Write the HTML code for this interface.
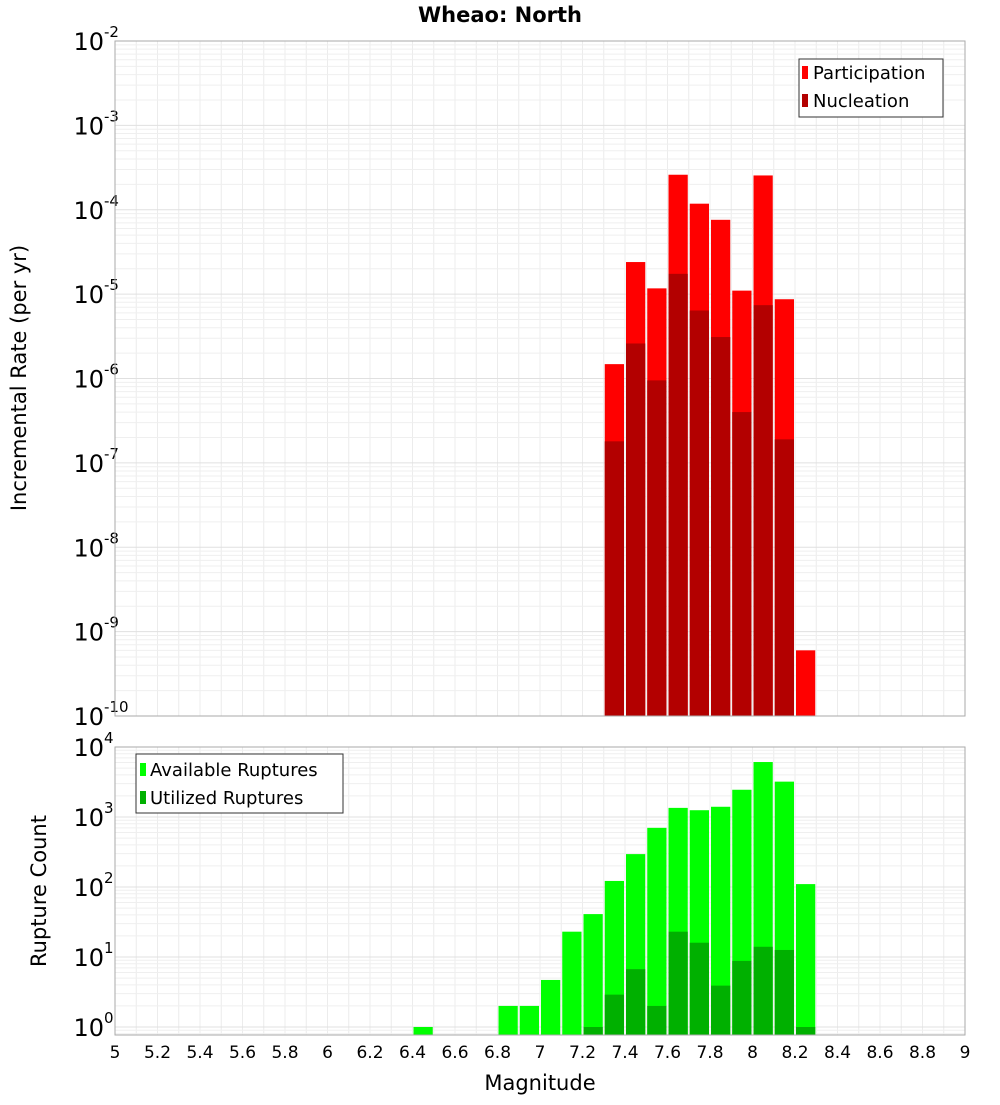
<!DOCTYPE html>
<html><head><meta charset="utf-8"><style>
body{margin:0;background:#fff;font-family:"Liberation Sans","DejaVu Sans",sans-serif;}
svg text{font-family:"DejaVu Sans","Liberation Sans",sans-serif;}
</style></head><body>
<svg id="chart" width="1000" height="1100" xmlns="http://www.w3.org/2000/svg">
<text x="500" y="22" text-anchor="middle" font-size="21" font-weight="bold">Wheao: North</text>
<g id="top"></g><g id="bot"></g>
<text x="540" y="1090" text-anchor="middle" font-size="21">Magnitude</text>
<text transform="translate(26,378) rotate(-90)" text-anchor="middle" font-size="21">Incremental Rate (per yr)</text>
<text transform="translate(46,891) rotate(-90)" text-anchor="middle" font-size="21">Rupture Count</text>
</svg>
<script>
const binCenters=[7.35,7.45,7.55,7.65,7.75,7.85,7.95,8.05,8.15,8.25];
const participation=[1.48e-6,2.4e-5,1.17e-5,2.6e-4,1.18e-4,7.6e-5,1.1e-5,2.55e-4,8.7e-6,6e-10];
const nucleation=[1.8e-7,2.6e-6,9.5e-7,1.74e-5,6.4e-6,3.1e-6,4e-7,7.4e-6,1.9e-7,0];
const countBins=[6.45,6.85,6.95,7.05,7.15,7.25,7.35,7.45,7.55,7.65,7.75,7.85,7.95,8.05,8.15,8.25];
const available=[1,2,2,4.7,23,41,122,295,700,1350,1250,1400,2450,6100,3200,110];
const utilized=[0,0,0,0,0,1,2.9,6.7,2,23,16,3.9,8.8,14,12.6,1];
const xTicks=[5,5.2,5.4,5.6,5.8,6,6.2,6.4,6.6,6.8,7,7.2,7.4,7.6,7.8,8,8.2,8.4,8.6,8.8,9];
const topExps=[-2,-3,-4,-5,-6,-7,-8,-9,-10];
const botExps=[4,3,2,1,0];
const NS="http://www.w3.org/2000/svg";
const X0=115,X1=965;
const xs=m=>X0+(m-5)/4*(X1-X0);
function mk(p,t,a){const e=document.createElementNS(NS,t);for(const k in a)e.setAttribute(k,a[k]);p.appendChild(e);return e;}
function panel(g,top,bottom,lmax,lmin,exps,yfn,name){
  mk(g,'rect',{x:X0,y:top,width:X1-X0,height:bottom-top,fill:'#fff'});
  for(let m=5;m<=9.001;m+=0.1){const l=mk(g,'line',{x1:xs(m),x2:xs(m),y1:top,y2:bottom,stroke:'#ececec','stroke-width':1});}
  for(let e=Math.floor(lmin);e<lmax;e++){for(let k=1;k<10;k++){const v=e+Math.log10(k);if(v<lmin||v>lmax)continue;
    mk(g,'line',{x1:X0,x2:X1,y1:yfn(Math.pow(10,v)),y2:yfn(Math.pow(10,v)),stroke:k==1?'#e0e0e0':'#efefef','stroke-width':1});}}
  exps.forEach(e=>{const y=yfn(Math.pow(10,e));
    const t=mk(g,'text',{x:104,y:y+9,'text-anchor':'end','font-size':24});
    
    
    t.textContent='10';
    const s=mk(g,'text',{x:104,y:y-4,'font-size':15});
    
    
    s.textContent=String(e);});
}
// top panel
const T=document.getElementById('top');
const tTop=41,tBot=716;
const yT=v=>tTop+(-2-Math.log10(v))*(tBot-tTop)/8;
panel(T,tTop,tBot,-2,-10,topExps,yT,'top');
function bars(g,cats,vals,yfn,bottom,color,name){
  cats.forEach((c,i)=>{if(!(vals[i]>0))return;const y=Math.max(yfn(vals[i]),0);
    const r=mk(g,'rect',{x:xs(c-0.05)+1,y:y,width:xs(c+0.05)-xs(c-0.05)-2,height:bottom-y,fill:color});
    
    });
}
bars(T,binCenters,participation,yT,tBot,'#ff0000','participation-bar');
bars(T,binCenters,nucleation,yT,tBot,'#b30000','nucleation-bar');
mk(T,'rect',{x:X0,y:tTop,width:X1-X0,height:tBot-tTop,fill:'none',stroke:'#aaa'});
// legend top
const lg=mk(T,'g',{});


mk(lg,'rect',{x:799,y:59,width:144,height:58,fill:'#fff',stroke:'#333'});
mk(lg,'rect',{x:802,y:66,width:6,height:13,fill:'#ff0000'});
mk(lg,'rect',{x:802,y:94,width:6,height:13,fill:'#b30000'});
let t1=mk(lg,'text',{x:813,y:79,'font-size':18});t1.textContent='Participation';
let t2=mk(lg,'text',{x:813,y:107,'font-size':18});t2.textContent='Nucleation';
// bottom panel
const B=document.getElementById('bot');
const bTop=747,bBot=1035,dec=70;
const yB=v=>bTop+(4-Math.log10(v))*dec;
panel(B,bTop,bBot,4,4-(bBot-bTop)/dec,botExps,yB,'bottom');
bars(B,countBins,available,yB,bBot,'#00ff00','available-bar');
bars(B,countBins,utilized,yB,bBot,'#00b000','utilized-bar');
mk(B,'rect',{x:X0,y:bTop,width:X1-X0,height:bBot-bTop,fill:'none',stroke:'#aaa'});
const lg2=mk(B,'g',{});


mk(lg2,'rect',{x:136,y:754,width:207,height:59,fill:'#fff',stroke:'#333'});
mk(lg2,'rect',{x:140,y:763,width:6,height:13,fill:'#00ff00'});
mk(lg2,'rect',{x:140,y:791,width:6,height:13,fill:'#00b000'});
let t3=mk(lg2,'text',{x:150,y:776,'font-size':18});t3.textContent='Available Ruptures';
let t4=mk(lg2,'text',{x:150,y:804,'font-size':18});t4.textContent='Utilized Ruptures';
// x ticks
xTicks.forEach(m=>{const t=mk(B,'text',{x:xs(m),y:1058,'text-anchor':'middle','font-size':17});
  
  
  t.textContent=String(m);});
</script>
</body></html>
